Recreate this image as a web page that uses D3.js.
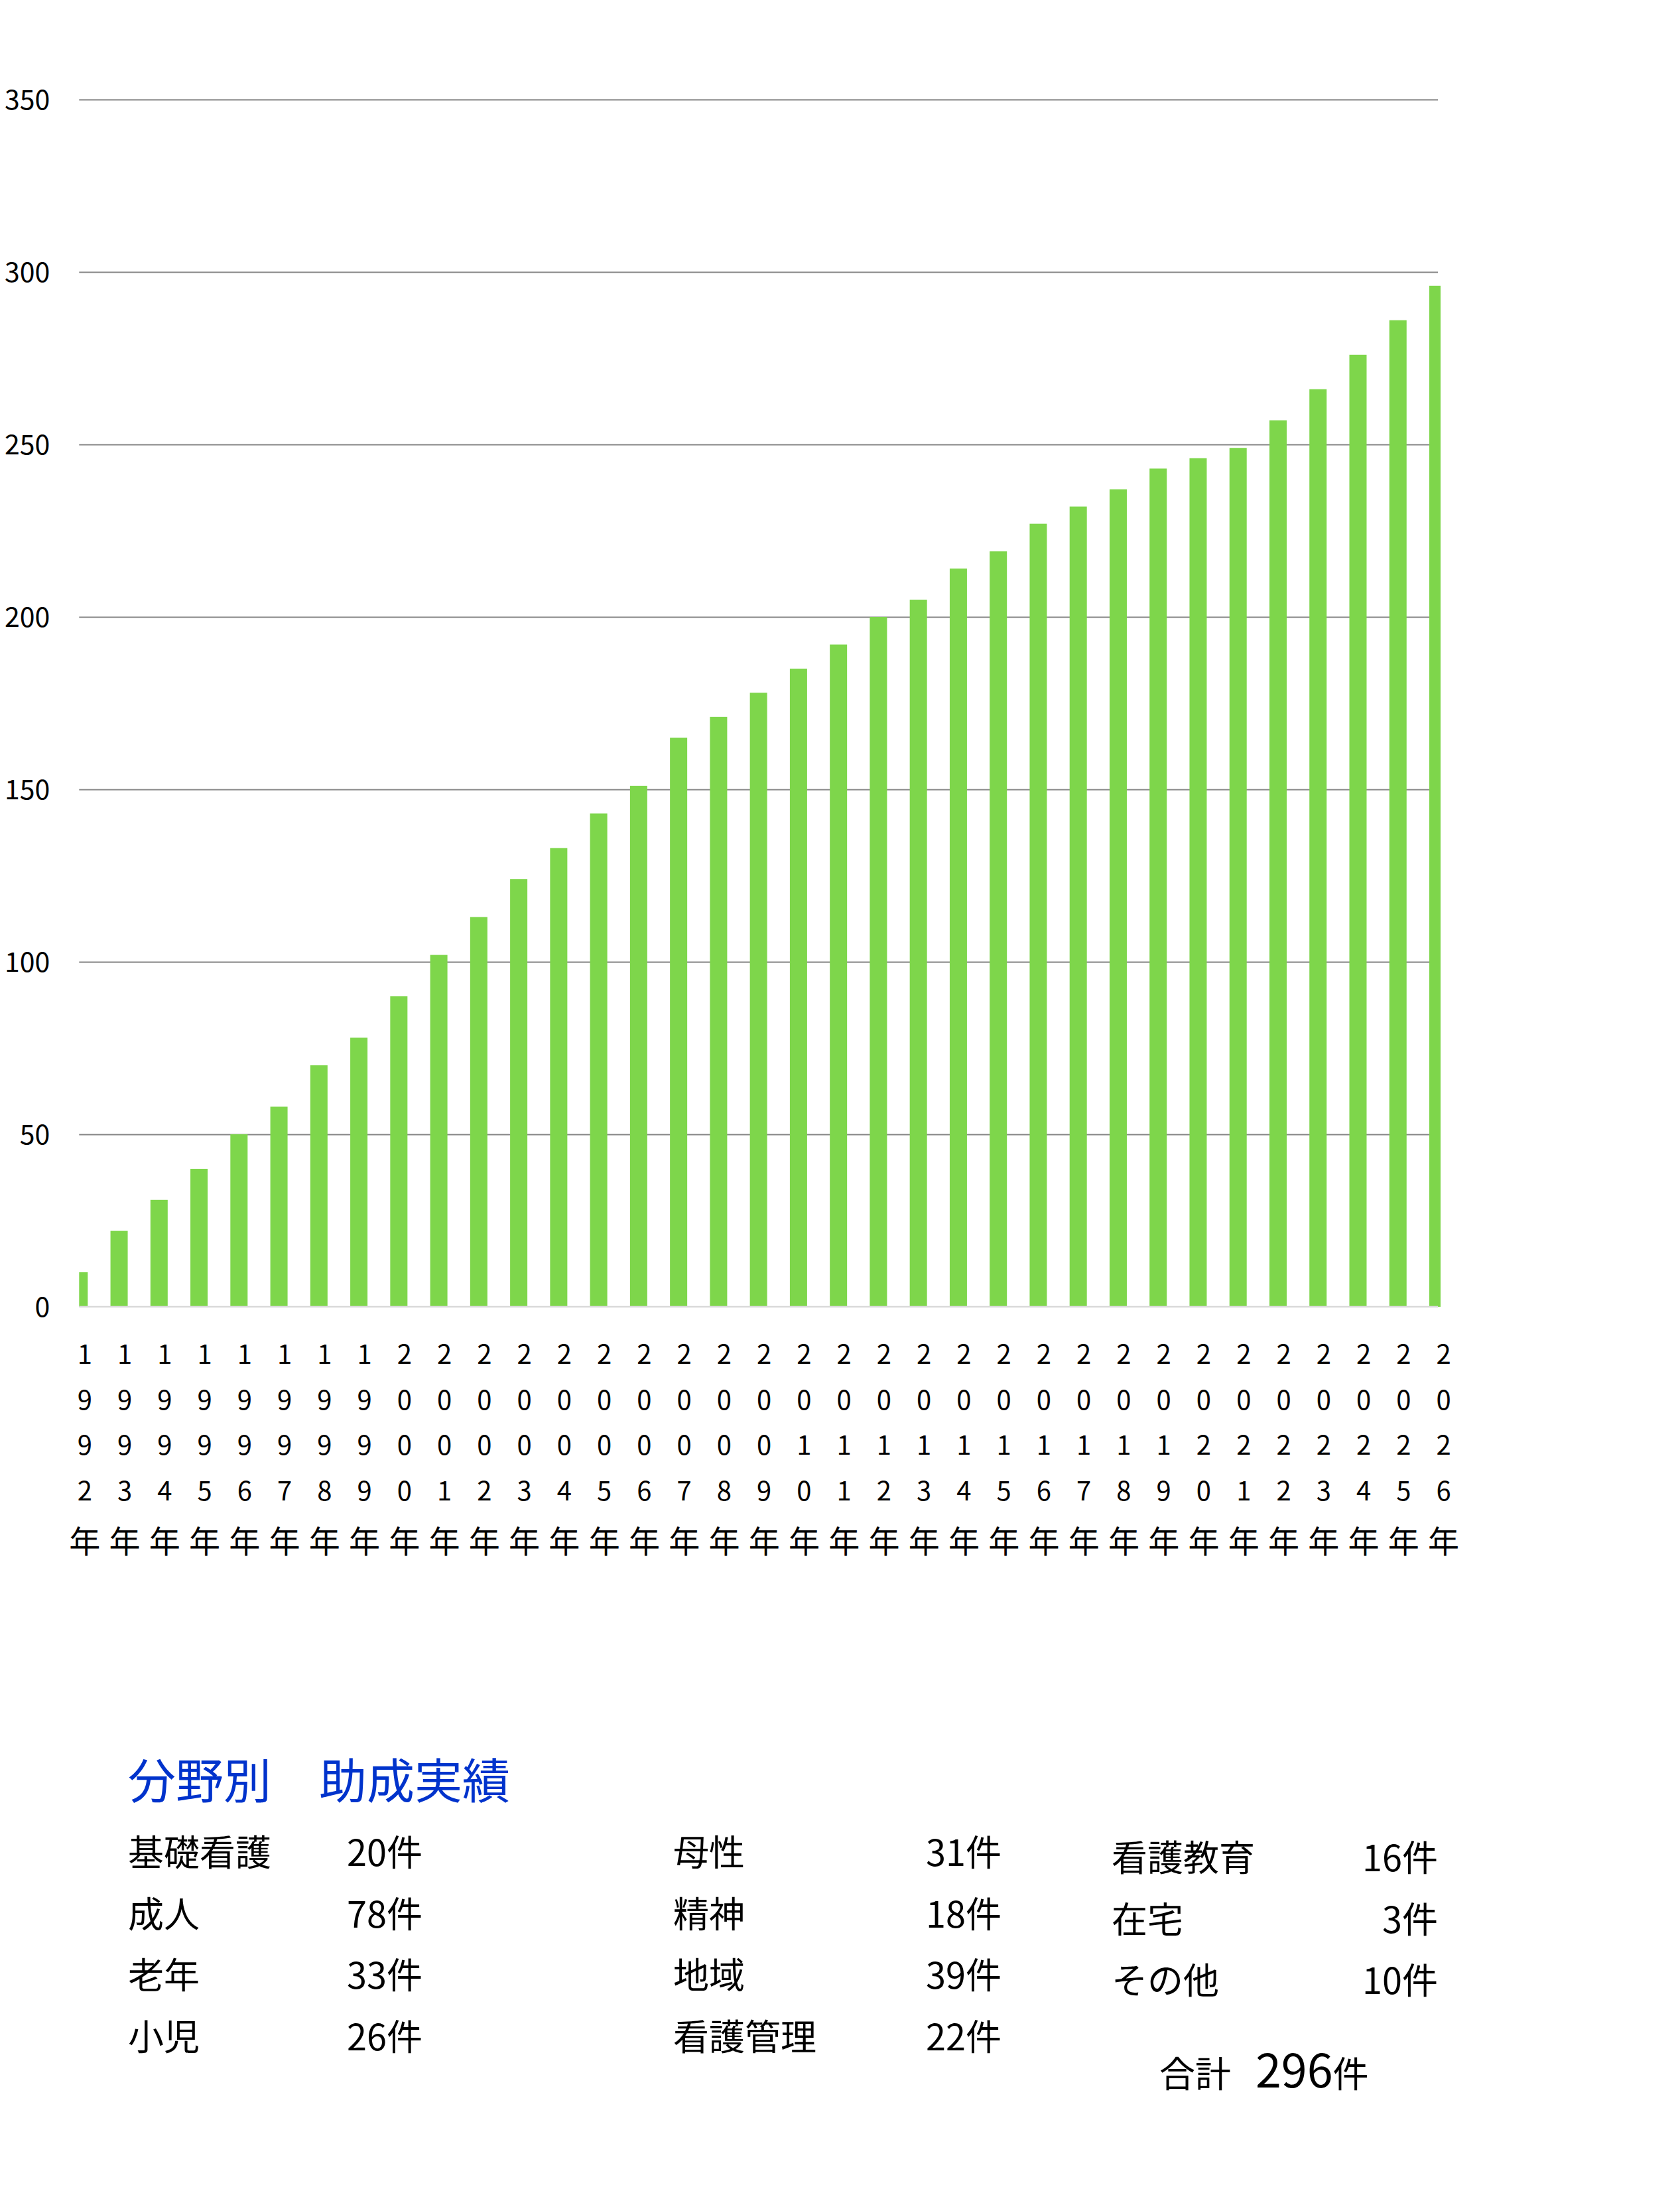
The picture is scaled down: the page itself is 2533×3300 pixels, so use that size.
<!DOCTYPE html>
<html><head><meta charset="utf-8">
<script src="https://cdn.jsdelivr.net/npm/d3@7/dist/d3.min.js"></script>
<style>body{margin:0;background:#fff}svg{display:block}</style>
</head><body>
<svg id="c" width="2533" height="3300"></svg>
<script>
// ---- data ----
const years = ["1992年","1993年","1994年","1995年","1996年","1997年","1998年","1999年","2000年","2001年",
  "2002年","2003年","2004年","2005年","2006年","2007年","2008年","2009年","2010年","2011年",
  "2012年","2013年","2014年","2015年","2016年","2017年","2018年","2019年","2020年","2021年",
  "2022年","2023年","2024年","2025年","2026年"];
const cumulativeCounts = [10,22,31,40,50,58,70,78,90,102,113,124,133,143,151,165,171,178,185,192,
  200,205,214,219,227,232,237,243,246,249,257,266,276,286,296];
const yTickValues = [0,50,100,150,200,250,300,350];
const titleText = "分野別　助成実績";
const col1Labels = ["基礎看護","成人","老年","小児"];
const col1Counts = [20,78,33,26];
const col2Labels = ["母性","精神","地域","看護管理"];
const col2Counts = [31,18,39,22];
const col3Labels = ["看護教育","在宅","その他"];
const col3Counts = [16,3,10];
const totalLabel = "合計";
const totalCount = 296;
const unit = "件";

// ---- layout ----
const FONT = "'Noto Sans CJK JP','Noto Sans',sans-serif";
const svg = d3.select("#c").style("font-family", FONT);
const plot = {left:119.3, right:2168, top:150, bottom:1970};

const x = d3.scalePoint().domain(years).range([plot.left, plot.right]);
const y = d3.scaleLinear().domain([0,350]).range([plot.bottom, plot.top]);

// gridlines + y labels
const yAxis = d3.axisLeft(y).tickValues(yTickValues).tickSize(-(plot.right-plot.left)).tickPadding(44);
const gy = svg.append("g").attr("transform",`translate(${plot.left},0)`).call(yAxis);
gy.select(".domain").remove();
gy.selectAll(".tick line").attr("stroke", d => d===0 ? "none" : "#858585").attr("stroke-width",2);
gy.selectAll(".tick text").attr("font-size",41).attr("fill","#000").attr("font-family",FONT).attr("dy","0.36em");

// clip
svg.append("clipPath").attr("id","pc").append("rect")
  .attr("x",plot.left).attr("y",0).attr("width",2172-plot.left).attr("height",plot.bottom);

// bars
const barW = 26;
svg.append("g").attr("clip-path","url(#pc)")
  .selectAll("rect").data(years).join("rect")
  .attr("x", d => x(d)-barW/2).attr("width", barW)
  .attr("y", (d,i) => y(cumulativeCounts[i]))
  .attr("height", (d,i) => y(0)-y(cumulativeCounts[i]))
  .attr("fill","#7ed64b");

// x axis
const xAxis = d3.axisBottom(x).tickSize(0).tickFormat(d=>d);
const gx = svg.append("g").attr("transform",`translate(0,${plot.bottom})`).call(xAxis);
gx.select(".domain").attr("stroke","#d9d9d9").attr("stroke-width",2.5)
  .attr("d",`M${plot.left},0H${plot.right}`);
gx.selectAll(".tick text").each(function(d){
  const t = d3.select(this);
  t.text(null).attr("y",0).attr("dy",null).attr("x",8).attr("fill","#000").attr("font-family",FONT);
  const chars = d.split("");
  t.selectAll("tspan").data(chars).join("tspan")
    .attr("x",8)
    .attr("y",(c,i)=> 86 + i*68.6 + (c==="年" ? 11 : 0))
    .attr("font-size",(c)=> c==="年" ? 47 : 40)
    .attr("text-anchor","middle")
    .text(c=>c);
});

// ---- text block ----
const tb = svg.append("g").attr("font-family",FONT);
tb.append("text").attr("x",193).attr("y",2711).attr("font-size",72).attr("fill","#0033cc").text(titleText);

const rowY = d3.scaleLinear().domain([0,1]).range([2813, 2905.5]);
function column(labels, counts, lx, nx, anchor, dyOff){
  const g = tb.append("g");
  g.selectAll("text.l").data(labels).join("text").attr("class","l")
    .attr("x",lx).attr("y",(d,i)=>rowY(i)+dyOff).attr("font-size",54).attr("fill","#000").text(d=>d);
  g.selectAll("text.n").data(counts).join("text").attr("class","n")
    .attr("x",nx).attr("y",(d,i)=>rowY(i)+dyOff).attr("font-size",54).attr("fill","#000")
    .attr("text-anchor",anchor).text(d=>d+unit);
}
column(col1Labels, col1Counts, 193, 523, "start", 0);
column(col2Labels, col2Counts, 1015, 1510, "end", 0);
column(col3Labels, col3Counts, 1676, 2168, "end", 8);

const tt = tb.append("text").attr("y",3147).attr("fill","#000");
tt.append("tspan").attr("x",1748).attr("font-size",54).text(totalLabel);
tt.append("tspan").attr("x",1893).attr("font-size",70).text(totalCount);
tt.append("tspan").attr("font-size",54).text(unit);
</script>
</body></html>
